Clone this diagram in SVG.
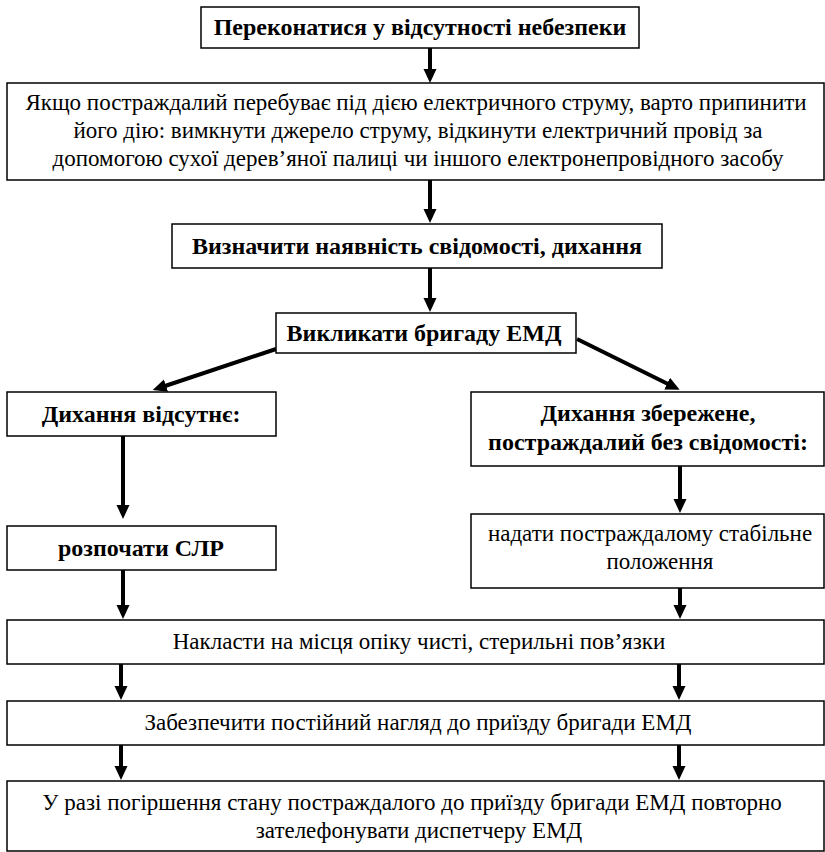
<svg xmlns="http://www.w3.org/2000/svg" width="825" height="852" viewBox="0 0 825 852">
<defs>
<style>
.box{fill:#fff;stroke:#000;stroke-width:1.5}
.t{font-family:"Liberation Serif","Times New Roman",serif;font-size:23px;fill:#000;text-anchor:middle}
.b{font-weight:bold;font-size:24px}
.c{stroke:#000;stroke-width:4;fill:none}
</style>
<marker id="ah" markerUnits="userSpaceOnUse" markerWidth="16" markerHeight="16" viewBox="0 -8 16 16" refX="1" refY="0" orient="auto">
<path d="M0,-6.5 L14,0 L0,6.5 z" fill="#000"/>
</marker>
</defs>
<rect width="825" height="852" fill="#fff"/>
<g id="connectors">
<line class="c" x1="430" y1="48" x2="430" y2="70" marker-end="url(#ah)"/>
<line class="c" x1="430" y1="180" x2="430" y2="210" marker-end="url(#ah)"/>
<line class="c" x1="430" y1="268" x2="430" y2="299" marker-end="url(#ah)"/>
<line class="c" x1="276" y1="349" x2="165" y2="386" marker-end="url(#ah)"/>
<line class="c" x1="577" y1="339" x2="668" y2="384" marker-end="url(#ah)"/>
<line class="c" x1="123" y1="436" x2="123" y2="506" marker-end="url(#ah)"/>
<line class="c" x1="680" y1="466" x2="680" y2="500" marker-end="url(#ah)"/>
<line class="c" x1="123" y1="570" x2="123" y2="606" marker-end="url(#ah)"/>
<line class="c" x1="680" y1="588" x2="680" y2="606" marker-end="url(#ah)"/>
<line class="c" x1="121" y1="664" x2="121" y2="687" marker-end="url(#ah)"/>
<line class="c" x1="679" y1="664" x2="679" y2="687" marker-end="url(#ah)"/>
<line class="c" x1="121" y1="745" x2="121" y2="767" marker-end="url(#ah)"/>
<line class="c" x1="679" y1="745" x2="679" y2="767" marker-end="url(#ah)"/>
</g>
<g id="n1"><rect class="box" x="201" y="7" width="438" height="41"/><text class="t b" x="420" y="35">Переконатися у відсутності небезпеки</text></g>
<g id="n2"><rect class="box" x="7" y="83" width="817" height="97"/>
<text class="t" x="416" y="110">Якщо постраждалий перебуває під дією електричного струму, варто припинити</text>
<text class="t" x="418" y="138">його дію: вимкнути джерело струму, відкинути електричний провід за</text>
<text class="t" x="418" y="166">допомогою сухої дерев’яної палиці чи іншого електронепровідного засобу</text></g>
<g id="n3"><rect class="box" x="172" y="224" width="490" height="44"/><text class="t b" x="417" y="254">Визначити наявність свідомості, дихання</text></g>
<g id="n4"><rect class="box" x="276" y="313" width="300" height="40"/><text class="t b" x="424" y="341">Викликати бригаду ЕМД</text></g>
<g id="n5"><rect class="box" x="7" y="392" width="269" height="44"/><text class="t b" x="141" y="422">Дихання відсутнє:</text></g>
<g id="n6"><rect class="box" x="471" y="392" width="353" height="74"/>
<text class="t b" x="648" y="421">Дихання збережене,</text>
<text class="t b" x="648" y="450">постраждалий без свідомості:</text></g>
<g id="n7"><rect class="box" x="7" y="526" width="269" height="44"/><text class="t b" x="141" y="556">розпочати СЛР</text></g>
<g id="n8"><rect class="box" x="471" y="514" width="353" height="74"/>
<text class="t" x="650" y="541">надати постраждалому стабільне</text>
<text class="t" x="660" y="569">положення</text></g>
<g id="n9"><rect class="box" x="7" y="620" width="817" height="44"/><text class="t" x="419" y="649">Накласти на місця опіку чисті, стерильні пов’язки</text></g>
<g id="n10"><rect class="box" x="7" y="701" width="817" height="44"/><text class="t" x="418" y="730">Забезпечити постійний нагляд до приїзду бригади ЕМД</text></g>
<g id="n11"><rect class="box" x="7" y="781" width="817" height="70"/>
<text class="t" x="412" y="810">У разі погіршення стану постраждалого до приїзду бригади ЕМД повторно</text>
<text class="t" x="419" y="838">зателефонувати диспетчеру ЕМД</text></g>
</svg>
